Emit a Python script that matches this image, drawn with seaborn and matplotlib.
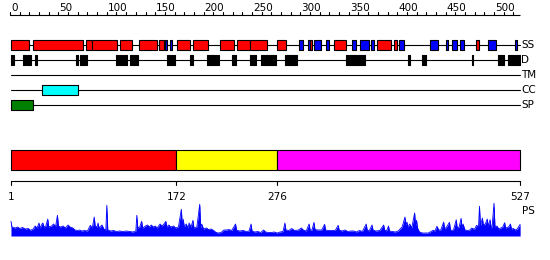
import matplotlib
matplotlib.use("Agg")
import matplotlib.pyplot as plt
import seaborn as sns

sns.set_theme(style="white")
plt.rcParams["font.family"] = ["DejaVu Sans"]

SEQ_LEN = 527
ruler_minor = list(range(0, 521, 10))
ruler_labels = list(range(0, 501, 50))

# secondary structure: helices (red) and strands (blue)
ss_helix = [(1, 20), (24, 75), (79, 85), (85, 111), (114, 126), (133, 152), (154, 159),
            (173, 186), (189, 205), (217, 231), (234, 248), (248, 265), (276, 285),
            (310, 312), (335, 347), (379, 394), (397, 400), (481, 485)]
ss_strand = [(160, 162), (165, 167), (299, 303), (308, 310), (314, 321), (326, 330),
             (353, 357), (362, 371), (373, 376), (402, 407), (434, 442), (450, 452),
             (457, 462), (465, 469), (494, 502), (522, 524)]
# disordered regions
disorder = [(1, 4), (13, 17), (18, 22), (26, 28), (68, 70), (72, 77), (79, 80), (110, 112),
            (113, 117), (118, 121), (124, 132), (162, 170), (186, 189), (203, 216),
            (229, 233), (248, 254), (259, 275), (284, 297), (347, 367), (411, 413),
            (426, 430), (477, 478), (504, 510), (514, 527)]
transmembrane = []
coiled_coil = [(33, 70)]
signal_peptide = [(1, 24)]

domain_starts = [1, 172, 276]
domain_ends = [172, 276, 527]
domain_colors = ["#ff0000", "#ffff00", "#ff00ff"]
boundary_ticks = [1, 172, 276, 527]

ps_pos = [1, 2, 5, 8, 10, 13, 16, 19, 21, 24, 26, 28, 29, 30, 31, 33, 34, 35, 37, 39, 40, 43,
          45, 47, 49, 50, 52, 55, 57, 60, 62, 65, 67, 70, 72, 74, 77, 80, 83, 85, 87, 88, 90,
          91, 92, 95, 97, 99, 100, 101, 104, 107, 110, 113, 117, 120, 124, 127, 130, 131,
          132, 134, 136, 137, 140, 142, 144, 146, 148, 150, 152, 155, 157, 159, 161, 162,
          164, 166, 169, 171, 174, 177, 178, 179, 180, 182, 184, 185, 187, 189, 190, 193,
          196, 197, 198, 200, 203, 205, 208, 211, 213, 215, 218, 221, 224, 226, 229, 233,
          234, 237, 241, 244, 247, 249, 250, 253, 256, 259, 262, 264, 267, 270, 273, 276,
          279, 282, 284, 285, 288, 291, 294, 298, 301, 303, 306, 309, 310, 312, 314, 315,
          318, 320, 322, 325, 326, 329, 332, 336, 339, 340, 343, 346, 349, 352, 355, 358,
          361, 364, 368, 369, 371, 374, 375, 378, 382, 386, 387, 389, 391, 392, 395, 398,
          401, 405, 406, 408, 409, 410, 411, 413, 415, 418, 419, 420, 421, 423, 426, 429,
          432, 434, 437, 439, 441, 443, 445, 448, 449, 451, 454, 455, 458, 461, 462, 464,
          466, 467, 468, 470, 473, 475, 477, 479, 480, 482, 484, 485, 486, 488, 489, 491,
          493, 494, 496, 497, 498, 500, 501, 503, 505, 506, 509, 511, 512, 515, 517, 518,
          520, 522, 524, 527]
ps_val = [14.7, 9, 8, 9, 7.5, 8.5, 7, 7.5, 5.7, 7, 10, 8, 10.7, 13, 8, 12, 13, 9, 10, 17, 9,
          10, 12, 9, 20.7, 10, 9, 10, 8, 11, 9, 8, 6, 5.5, 6, 5, 5.5, 5, 10.7, 8, 19, 10, 9,
          13, 8, 11, 7, 6, 30.7, 6, 5, 5.5, 4.5, 5, 4.5, 5, 4.5, 4, 5, 20.7, 8, 9, 14.7, 8,
          10, 11, 9, 11, 9, 10, 8, 12, 10, 12, 14.7, 9, 11, 9, 10, 8, 9, 26.7, 10, 16.7, 9,
          12, 8, 13, 9, 15.7, 8, 9, 31.7, 8, 12, 7, 8, 6.5, 7, 5, 3.5, 3, 3.5, 6, 6, 6.5,
          5.5, 12, 6, 5, 5.5, 4.5, 5, 12, 5, 4, 4.5, 3.5, 6, 4, 3.5, 3.5, 4, 3, 4, 4.5, 13,
          6, 5.5, 7.5, 5.5, 6, 8, 6, 5, 12, 6, 6, 13.7, 6.5, 6, 6, 6, 11.7, 6, 5.5, 5.5,
          5.5, 10.7, 6, 5, 6, 4.5, 5, 5, 4, 5.5, 4.5, 12, 6, 5, 11, 6, 5, 5.5, 11, 6, 5, 10,
          5, 4.5, 4, 5, 9, 12, 19, 11, 14, 9, 12, 8, 23, 10, 15.7, 8, 4, 3, 3, 3, 4, 5.7, 5,
          9.7, 6, 6, 14, 7, 9, 13.7, 6, 5.5, 16.3, 8, 9, 17.7, 8, 12, 6, 5.5, 6, 8, 7, 7,
          10.7, 9, 29.7, 10, 18, 11, 12, 17, 10, 16.3, 8, 9, 32.7, 9, 10, 7, 7.5, 9, 13.3,
          8, 9, 12, 7, 7.5, 6, 7, 11.7]

# ---- layout ----
W, H = 550, 260
X0, PX = 10, 0.968
XLIM = (-X0 / PX, (W - X0) / PX)
LW = 0.8
FS = 7.5

fig = plt.figure(figsize=(5.5, 2.6), dpi=100)
ax = fig.add_axes([0, 0, 1, 1])
ax.set_xlim(*XLIM)
ax.set_ylim(H, 0)
ax.axis("off")

# ruler
ax.plot([0, SEQ_LEN], [15, 15], color="black", lw=LW, solid_capstyle="butt")
for t in ruler_minor:
    ax.plot([t, t], [15, 12], color="black", lw=LW)
for t in ruler_labels:
    ax.text(t + 1.0, 11, str(t), ha="left", va="baseline", fontsize=FS, color="black")

rows = {"SS": 45, "D": 60, "TM": 75, "CC": 90, "SP": 105}
for name, y in rows.items():
    ax.plot([1, SEQ_LEN], [y, y], color="black", lw=LW, zorder=1)
    ax.text(SEQ_LEN + 1.2, y, name, ha="left", va="center", fontsize=FS, color="black")

def boxes(segs, y, color):
    if segs:
        ax.broken_barh([(s, e - s) for s, e in segs], (y - 5, 10), facecolors=color,
                       edgecolors="black", linewidth=LW, zorder=2)

boxes(ss_helix, rows["SS"], "#ff0000")
boxes(ss_strand, rows["SS"], "#0000ff")
boxes(disorder, rows["D"], "#000000")
boxes(transmembrane, rows["TM"], "#808080")
boxes(coiled_coil, rows["CC"], "#00ffff")
boxes(signal_peptide, rows["SP"], "#008000")

# domain bar
ax.broken_barh([(s, e - s) for s, e in zip(domain_starts, domain_ends)], (150, 20),
               facecolors=domain_colors, edgecolors="black", linewidth=LW, zorder=2)

# boundary axis
ax.plot([1, SEQ_LEN], [181, 181], color="black", lw=LW)
for t in boundary_ticks:
    ax.plot([t, t], [181, 185], color="black", lw=LW)
    ax.text(t, 200, str(t), ha="center", va="baseline", fontsize=FS, color="black")

ax.text(SEQ_LEN + 2, 211, "PS", ha="left", va="center", fontsize=FS, color="black")

# PS profile
ax2 = fig.add_axes([0, (H - 236) / H, 1, 36 / H])
ax2.set_xlim(*XLIM)
ax2.set_ylim(0, 36)
ax2.axis("off")
ax2.patch.set_alpha(0)
ax2.fill_between(ps_pos, ps_val, 0, color="#0000ff", lw=0)
sns.lineplot(x=ps_pos, y=ps_val, ax=ax2, color="#0000ff", lw=0.6)

fig.savefig("out.png", dpi=100)
